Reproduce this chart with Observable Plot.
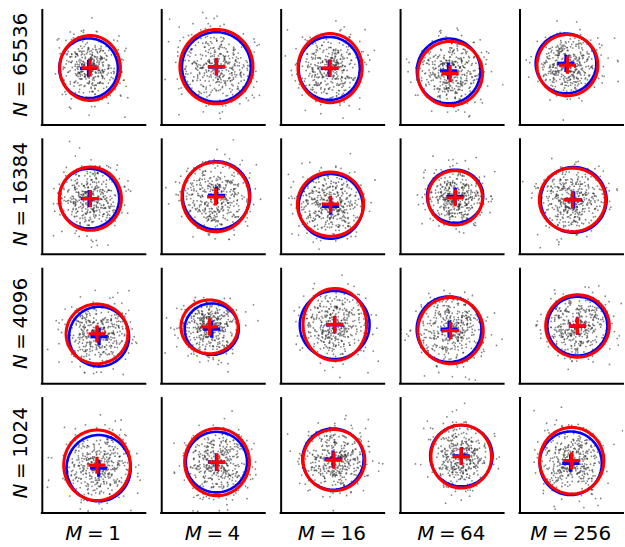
<!DOCTYPE html>
<html><head><meta charset="utf-8">
<script src="https://cdn.jsdelivr.net/npm/d3@7"></script>
<script src="https://cdn.jsdelivr.net/npm/@observablehq/plot@0.6"></script>
<style>html,body{margin:0;padding:0;overflow:hidden;background:#fff}</style>
</head><body><div id="chart"></div>
<script>
// Facet categories
const Ms = [1, 4, 16, 64, 256];
const Ns = [65536, 16384, 4096, 1024];

// Red estimate: centre (cx, cy) and semi-axes (rx, ry); rows = N (top to bottom), cols = M
const redCx = [[-0.27, 0.20, -0.19, -0.15, -0.29],
               [-0.25, 0.15, -0.16, 0.19, 0.05],
               [0.20, -0.27, 0.13, -0.12, 0.39],
               [0.20, 0.24, 0.07, 0.60, 0.00]];
const redCy = [[-0.02, 0.07, -0.03, -0.39, 0.17],
               [-0.11, 0.01, -0.48, -0.05, -0.19],
               [-0.50, -0.03, 0.13, -0.28, 0.03],
               [-0.63, -0.42, -0.29, -0.05, -0.33]];
const redRx = [[2.05, 2.47, 2.17, 2.19, 2.06],
               [2.10, 2.28, 2.24, 1.85, 2.24],
               [2.09, 1.93, 2.15, 2.21, 2.15],
               [2.25, 2.19, 2.09, 2.05, 2.17]];
const redRy = [[2.17, 2.49, 2.31, 2.15, 2.05],
               [2.12, 2.33, 2.15, 1.82, 2.13],
               [2.00, 1.80, 2.41, 2.22, 2.09],
               [2.36, 2.25, 2.05, 2.11, 2.23]];

// Blue estimate
const blueCx = [[-0.37, 0.20, -0.25, -0.25, -0.39],
                [-0.33, 0.20, -0.15, 0.19, 0.13],
                [0.34, -0.12, 0.12, -0.22, 0.38],
                [0.31, 0.20, 0.01, 0.61, -0.07]];
const blueCy = [[-0.04, 0.05, -0.05, -0.22, 0.28],
                [-0.10, 0.11, -0.62, 0.05, -0.19],
                [-0.68, -0.18, 0.10, -0.19, 0.02],
                [-0.83, -0.42, -0.22, 0.00, -0.50]];
const blueRx = [[1.98, 2.33, 2.07, 2.15, 2.05],
                [2.03, 2.28, 2.17, 1.90, 2.23],
                [2.03, 1.83, 2.36, 2.19, 2.03],
                [2.17, 2.07, 2.07, 2.11, 2.10]];
const blueRy = [[2.00, 2.33, 2.11, 2.17, 2.00],
                [2.00, 2.28, 2.17, 1.78, 2.20],
                [2.00, 1.72, 2.28, 2.20, 1.97],
                [2.22, 2.03, 2.05, 2.05, 2.13]];

// Shown samples per panel (individual points are not readable: seeded draws around the red estimate)
const nSamples = 420;

function panels(cx, cy, rx, ry) {
  const out = [];
  Ns.forEach((N, i) => Ms.forEach((M, j) =>
    out.push({N, M, cx: cx[i][j], cy: cy[i][j], rx: rx[i][j], ry: ry[i][j]})));
  return out;
}
const red = panels(redCx, redCy, redRx, redRy);
const blue = panels(blueCx, blueCy, blueRx, blueRy);

function outline(rows, name) {
  const pts = [];
  rows.forEach(p => {
    for (let a = 0; a < 360; a += 4) {
      const t = a * Math.PI / 180;
      pts.push({N: p.N, M: p.M, key: name + p.N + "-" + p.M,
        x: p.cx + p.rx * Math.cos(t), y: p.cy + p.ry * Math.sin(t)});
    }
  });
  return pts;
}

const normal = d3.randomNormal.source(d3.randomLcg(0.37))(0, 1);
const samples = [];
red.forEach(p => {
  for (let k = 0; k < nSamples; k++)
    samples.push({N: p.N, M: p.M, x: p.cx + normal() * p.rx / 2, y: p.cy + normal() * p.ry / 2});
});

const plot = Plot.plot({
  width: 628, height: 547,
  marginLeft: 40, marginRight: 0, marginTop: 10, marginBottom: 32,
  style: {fontFamily: "DejaVu Sans", background: "white", color: "black"},
  fx: {domain: Ms, paddingInner: 0.132, paddingOuter: 0, axis: null},
  fy: {domain: Ns, paddingInner: 0.1154, paddingOuter: 0, axis: null},
  x: {domain: [-3.5, 3.5], axis: null},
  y: {domain: [-3.833, 3.833], axis: null},
  marks: [
    Plot.dot(samples, {x: "x", y: "y", fx: "M", fy: "N", r: 0.9, fill: "#333", fillOpacity: 0.6, clip: true}),
    Plot.line(outline(blue, "b"), {x: "x", y: "y", z: "key", fx: "M", fy: "N", stroke: "blue", strokeWidth: 2.6, curve: "linear-closed"}),
    Plot.line(outline(red, "r"), {x: "x", y: "y", z: "key", fx: "M", fy: "N", stroke: "red", strokeWidth: 3.1, curve: "linear-closed"}),
    Plot.dot(blue, {x: "cx", y: "cy", fx: "M", fy: "N", symbol: "plus", r: 5.6, stroke: "blue", strokeWidth: 3.3}),
    Plot.dot(red, {x: "cx", y: "cy", fx: "M", fy: "N", symbol: "plus", r: 5.6, stroke: "red", strokeWidth: 3.3}),
    Plot.ruleX([-3.5], {stroke: "black", strokeWidth: 2, strokeLinecap: "square"}),
    Plot.ruleY([-3.833], {stroke: "black", strokeWidth: 2, strokeLinecap: "square"}),
    Plot.text(Ns, {fx: () => Ms[0], fy: d => d, text: d => `N = ${d}`, frameAnchor: "left", rotate: -90, dx: -15, dy: -3, lineAnchor: "bottom", textAnchor: "middle", fontSize: 20, fill: "black"}),
    Plot.text(Ms, {fx: d => d, fy: () => Ns[Ns.length - 1], text: d => `M = ${d}`, frameAnchor: "bottom", dx: -1, dy: 27, lineAnchor: "bottom", textAnchor: "middle", fontSize: 20, fill: "black"})
  ]
});

// italic variable names, as in math text
plot.querySelectorAll("text").forEach(t => {
  const s = t.textContent;
  if (/^[NM] = /.test(s)) {
    t.textContent = "";
    t.setAttribute("word-spacing", "-1.8");
    const ns = "http://www.w3.org/2000/svg";
    const it = document.createElementNS(ns, "tspan");
    it.setAttribute("font-style", "italic");
    it.textContent = s[0];
    t.appendChild(it);
    t.appendChild(document.createTextNode(s.slice(1)));
  }
});
document.getElementById("chart").appendChild(plot);
</script>
</body></html>
